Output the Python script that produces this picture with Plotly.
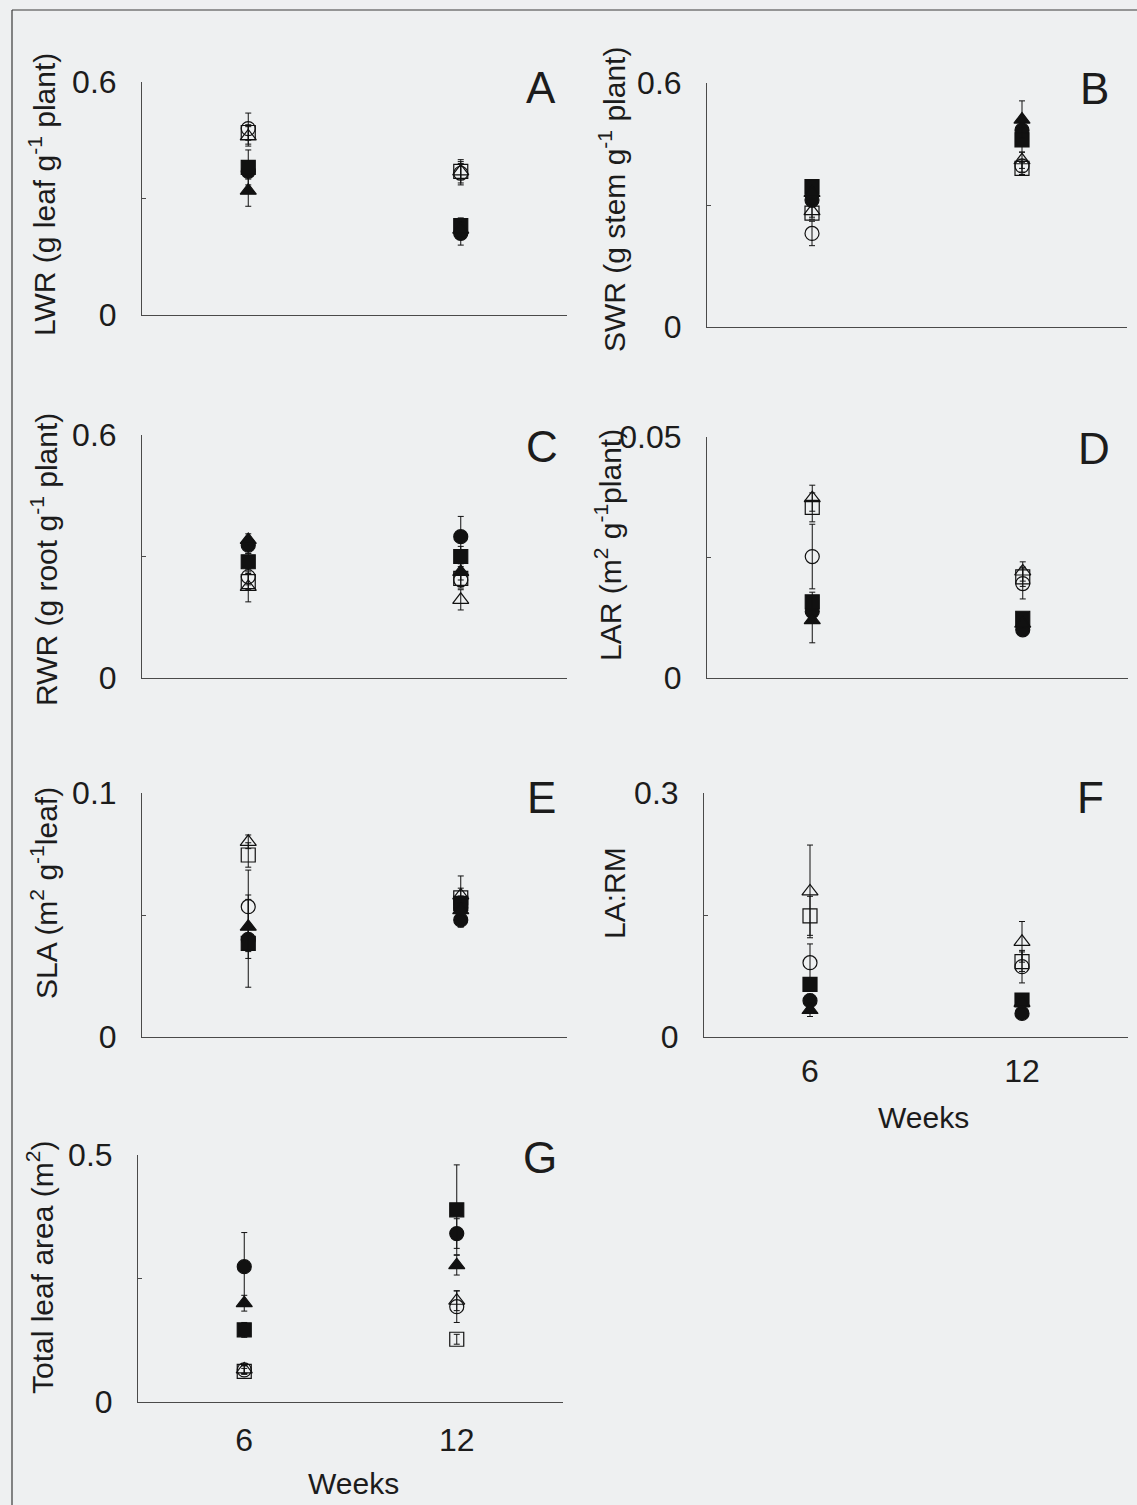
import plotly.graph_objects as go

# ---------------------------------------------------------------------------
# Data: mean (and error) per treatment at 6 and 12 weeks
# Treatment order: open circle, filled circle, open square, filled square,
#                  open triangle, filled triangle
# ---------------------------------------------------------------------------
weeks = [6, 12]

lwr_mean = [[0.48, 0.365], [0.37, 0.21], [0.47, 0.37], [0.38, 0.23], [0.46, 0.37], [0.32, 0.22]]
lwr_err = [[0.04, 0.03], [0.02, 0.03], [0.02, 0.02], [0.045, 0.02], [0.025, 0.03], [0.04, 0.02]]

swr_mean = [[0.23, 0.396], [0.312, 0.484], [0.28, 0.39], [0.345, 0.46], [0.285, 0.41], [0.33, 0.51]]
swr_err = [[0.03, 0.015], [0.015, 0.03], [0.015, 0.015], [0.015, 0.03], [0.015, 0.02], [0.015, 0.046]]

rwr_mean = [[0.25, 0.242], [0.328, 0.349], [0.238, 0.246], [0.287, 0.30], [0.225, 0.193], [0.341, 0.262]]
rwr_err = [[0.02, 0.02], [0.02, 0.05], [0.02, 0.02], [0.02, 0.025], [0.037, 0.025], [0.015, 0.02]]

lar_mean = [[0.0252, 0.0196], [0.0138, 0.0100], [0.0354, 0.0210], [0.0158, 0.0124], [0.0373, 0.0221], [0.0120, 0.0113]]
lar_err = [[0.0067, 0.0032], [0.002, 0.001], [0.003, 0.002], [0.002, 0.001], [0.0027, 0.002], [0.0047, 0.001]]

sla_mean = [[0.0534, 0.053], [0.040, 0.048], [0.0746, 0.057], [0.0384, 0.0548], [0.080, 0.058], [0.0452, 0.052]]
sla_err = [[0.015, 0.004], [0.005, 0.003], [0.005, 0.004], [0.018, 0.003], [0.0028, 0.008], [0.013, 0.003]]

larm_mean = [[0.0914, 0.0865], [0.0447, 0.029], [0.149, 0.0926], [0.0648, 0.0455], [0.179, 0.117], [0.0332, 0.042]]
larm_err = [[0.023, 0.02], [0.008, 0.006], [0.024, 0.012], [0.008, 0.008], [0.057, 0.025], [0.008, 0.006]]

tla_mean = [[0.065, 0.193], [0.274, 0.341], [0.062, 0.127], [0.146, 0.389], [0.066, 0.205], [0.200, 0.277]]
tla_err = [[0.008, 0.032], [0.069, 0.03], [0.006, 0.01], [0.015, 0.091], [0.008, 0.02], [0.016, 0.02]]

symbols = ["circle-open", "circle", "square-open", "square", "triangle-up-open", "triangle-up"]

# Panel definitions: data, axis top, top tick label, y title, letter
panels = [
    dict(mean=lwr_mean, err=lwr_err, top=0.6, toplab="0.6", letter="A",
         title="LWR (g leaf g<sup>-1</sup> plant)"),
    dict(mean=swr_mean, err=swr_err, top=0.6, toplab="0.6", letter="B",
         title="SWR (g stem g<sup>-1</sup> plant)"),
    dict(mean=rwr_mean, err=rwr_err, top=0.6, toplab="0.6", letter="C",
         title="RWR (g root g<sup>-1</sup> plant)"),
    dict(mean=lar_mean, err=lar_err, top=0.05, toplab="0.05", letter="D",
         title="LAR (m<sup>2</sup> g<sup>-1</sup>plant)"),
    dict(mean=sla_mean, err=sla_err, top=0.1, toplab="0.1", letter="E",
         title="SLA (m<sup>2</sup> g<sup>-1</sup>leaf)"),
    dict(mean=larm_mean, err=larm_err, top=0.3, toplab="0.3", letter="F",
         title="LA:RM"),
    dict(mean=tla_mean, err=tla_err, top=0.5, toplab="0.5", letter="G",
         title="Total leaf area (m<sup>2</sup>)"),
]

# ---------------------------------------------------------------------------
# Layout geometry (pixels)
# ---------------------------------------------------------------------------
W, H = 1137, 1505
boxes = [  # x0, x1, y_top, y_bottom
    (142, 567, 82, 315),
    (707, 1127, 83, 327),
    (142, 567, 435, 678),
    (707, 1128, 437, 678),
    (142, 567, 793, 1037),
    (704, 1128, 793, 1037),
    (138, 563, 1155, 1402),
]
title_pos = [(42, 195), (612, 200), (44, 560), (608, 545), (44, 893), (614, 893), (40, 1268)]
letter_pos = [(541, 88), (1094, 89), (542, 446), (1094, 448), (541, 797), (1090, 797), (540, 1157)]
weeks_label_pos = {5: (923, 1117), 6: (353, 1483)}
x_label_standoff = {5: 6, 6: 10}

FONT = "Liberation Sans, Arial, sans-serif"
INK = "#1c1c1c"
AXIS = "#4a4a4a"
BG = "#eef0f1"


def px(x):
    return x / W


def py(y):
    return 1 - y / H


fig = go.Figure()
layout = dict(
    width=W, height=H,
    margin=dict(l=0, r=0, t=0, b=0, autoexpand=False),
    paper_bgcolor=BG, plot_bgcolor=BG,
    showlegend=False,
    font=dict(family=FONT, color=INK),
)
annotations = []

for i, (p, box) in enumerate(zip(panels, boxes)):
    n = "" if i == 0 else str(i + 1)
    xa, ya = "x" + n, "y" + n
    x0, x1, yt, yb = box
    show_x_labels = i in x_label_standoff

    xaxis = dict(
        domain=[px(x0), px(x1)], range=[3, 15], anchor=ya, automargin=False,
        showline=True, linecolor=AXIS, linewidth=1,
        showgrid=False, zeroline=False, ticks="",
        showticklabels=show_x_labels,
        tickfont=dict(size=32, family=FONT, color=INK),
    )
    if show_x_labels:
        xaxis.update(tickvals=weeks, ticktext=[str(w) for w in weeks],
                     ticklabelstandoff=x_label_standoff[i])
    layout["xaxis" + n] = xaxis

    layout["yaxis" + n] = dict(
        domain=[py(yb), py(yt)], range=[0, p["top"]], anchor=xa, automargin=False,
        showline=True, linecolor=AXIS, linewidth=1,
        showgrid=False, zeroline=False, ticks="",
        tickvals=[0, p["top"]],
        ticktext=["0", p["toplab"]],
        tickfont=dict(size=32, family=FONT, color=INK),
        ticklabelstandoff=18,
        minor=dict(tickvals=[p["top"] / 2], ticks="inside", ticklen=4,
                   tickcolor=AXIS, tickwidth=1, showgrid=False),
    )

    for s, sym in enumerate(symbols):
        fig.add_trace(go.Scatter(
            x=weeks, y=p["mean"][s], mode="markers",
            xaxis=xa, yaxis=ya,
            marker=dict(symbol=sym, size=14, color="#111111",
                        line=dict(color="#111111", width=1.2)),
            error_y=dict(type="data", array=p["err"][s], visible=True,
                         color="#111111", thickness=1, width=3),
            cliponaxis=False,
            name=sym,
        ))

    tx, ty = title_pos[i]
    annotations.append(dict(
        text=p["title"], x=px(tx), y=py(ty), xref="paper", yref="paper",
        xanchor="center", yanchor="middle", textangle=-90, showarrow=False,
        font=dict(size=30, family=FONT, color=INK),
    ))
    lx, ly = letter_pos[i]
    annotations.append(dict(
        text=p["letter"], x=px(lx), y=py(ly), xref="paper", yref="paper",
        xanchor="center", yanchor="middle", showarrow=False,
        font=dict(size=44, family=FONT, color=INK),
    ))

for i, (wx, wy) in weeks_label_pos.items():
    annotations.append(dict(
        text="Weeks", x=px(wx), y=py(wy), xref="paper", yref="paper",
        xanchor="center", yanchor="middle", showarrow=False,
        font=dict(size=30, family=FONT, color=INK),
    ))

layout["annotations"] = annotations
# outer frame of the figure
layout["shapes"] = [
    dict(type="line", xref="paper", yref="paper", x0=px(12), x1=1.0, y0=py(10), y1=py(10),
         line=dict(color="#3a3a3a", width=1.2)),
    dict(type="line", xref="paper", yref="paper", x0=px(12), x1=px(12), y0=py(10), y1=0.0,
         line=dict(color="#3a3a3a", width=1.2)),
]

fig.update_layout(**layout)
fig.write_html("out.html")
